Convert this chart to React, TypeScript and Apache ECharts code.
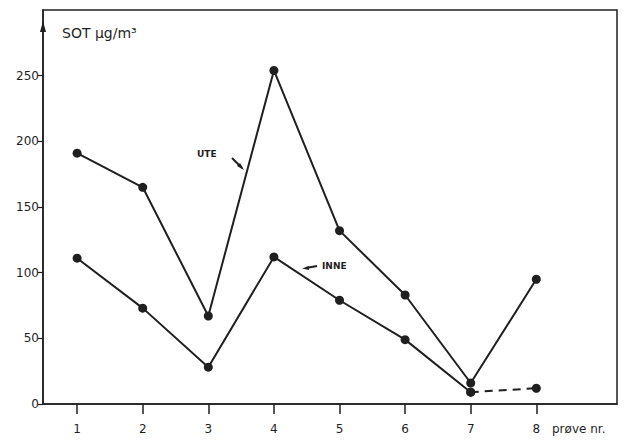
import React, { useEffect, useRef } from "react";
import * as echarts from "echarts";

const samples = [1, 2, 3, 4, 5, 6, 7, 8];
const ute = [191, 165, 67, 254, 132, 83, 16, 95];
const inne = [111, 73, 28, 112, 79, 49, 9];
const inneDashed = [9, 12]; // sample 7 -> 8
const yTicks = [0, 50, 100, 150, 200, 250];

const INK = "#1f1f1f";
const FONT = "'DejaVu Sans', sans-serif";

export default function App() {
  const ref = useRef<HTMLDivElement>(null);
  useEffect(() => {
    if (!ref.current) return;
    const chart = echarts.init(ref.current, null, { renderer: "svg" });
    const uteData = samples.map((s, i) => [s, ute[i]]);
    const inneData = inne.map((v, i) => [samples[i], v]);
    const dashData = inneDashed.map((v, i) => [samples[6 + i], v]);
    chart.setOption({
      animation: false,
      backgroundColor: "#ffffff",
      grid: {
        left: 43,
        right: 15,
        top: 10,
        bottom: 36,
        show: true,
        borderColor: INK,
        borderWidth: 1.5,
        backgroundColor: "transparent",
      },
      xAxis: {
        type: "value",
        min: 0.48,
        max: 9.23,
        splitLine: { show: false },
        axisLine: { show: true, lineStyle: { color: INK, width: 1.5 } },
        axisTick: {
          show: true,
          customValues: samples,
          length: 10,
          lineStyle: { color: INK, width: 1.5 },
        },
        axisLabel: {
          customValues: samples,
          color: INK,
          fontSize: 12,
          fontFamily: FONT,
          margin: 19,
        },
      },
      yAxis: {
        type: "value",
        min: 0,
        max: 300,
        interval: 50,
        splitLine: { show: false },
        axisLine: { show: true, lineStyle: { color: INK, width: 1.5 } },
        axisTick: {
          show: true,
          customValues: yTicks,
          length: 5,
          lineStyle: { color: INK, width: 1.2 },
        },
        axisLabel: {
          customValues: yTicks,
          color: INK,
          fontSize: 12,
          fontFamily: FONT,
          margin: 4,
        },
      },
      series: [
        {
          name: "UTE",
          type: "line",
          data: uteData,
          symbol: "circle",
          symbolSize: 9,
          lineStyle: { color: INK, width: 2 },
          itemStyle: { color: INK },
        },
        {
          name: "INNE",
          type: "line",
          data: inneData,
          symbol: "circle",
          symbolSize: 9,
          lineStyle: { color: INK, width: 2 },
          itemStyle: { color: INK },
        },
        {
          name: "INNE (stiplet)",
          type: "line",
          data: dashData,
          symbol: "circle",
          symbolSize: 9,
          lineStyle: { color: INK, width: 2, type: [8, 6] },
          itemStyle: { color: INK },
        },
      ],
      graphic: [
        {
          type: "polygon",
          shape: { points: [[43, 21], [40, 32], [46, 32]] },
          style: { fill: INK },
        },
        {
          type: "text",
          left: 62,
          top: 26,
          style: {
            text: "SOT μg/m³",
            fontSize: 14,
            fontFamily: FONT,
            fill: INK,
          },
        },
        {
          type: "text",
          left: 197,
          top: 149,
          style: { text: "UTE", fontSize: 9, fontWeight: "bold", fontFamily: FONT, fill: INK },
        },
        {
          type: "line",
          shape: { x1: 232, y1: 158, x2: 242, y2: 168 },
          style: { stroke: INK, lineWidth: 2 },
        },
        {
          type: "polygon",
          shape: { points: [[244, 170], [237, 166], [240, 163]] },
          style: { fill: INK },
        },
        {
          type: "text",
          left: 322,
          top: 261,
          style: { text: "INNE", fontSize: 9, fontWeight: "bold", fontFamily: FONT, fill: INK },
        },
        {
          type: "line",
          shape: { x1: 306, y1: 268, x2: 317, y2: 266 },
          style: { stroke: INK, lineWidth: 2 },
        },
        {
          type: "polygon",
          shape: { points: [[302, 268.5], [309, 266], [309, 270]] },
          style: { fill: INK },
        },
        {
          type: "text",
          left: 552,
          top: 423,
          style: { text: "prøve nr.", fontSize: 12, fontFamily: FONT, fill: INK },
        },
      ],
    });
    return () => chart.dispose();
  }, []);
  return <div ref={ref} style={{ width: 632, height: 440, position: "fixed", left: 0, top: 0 }} />;
}
